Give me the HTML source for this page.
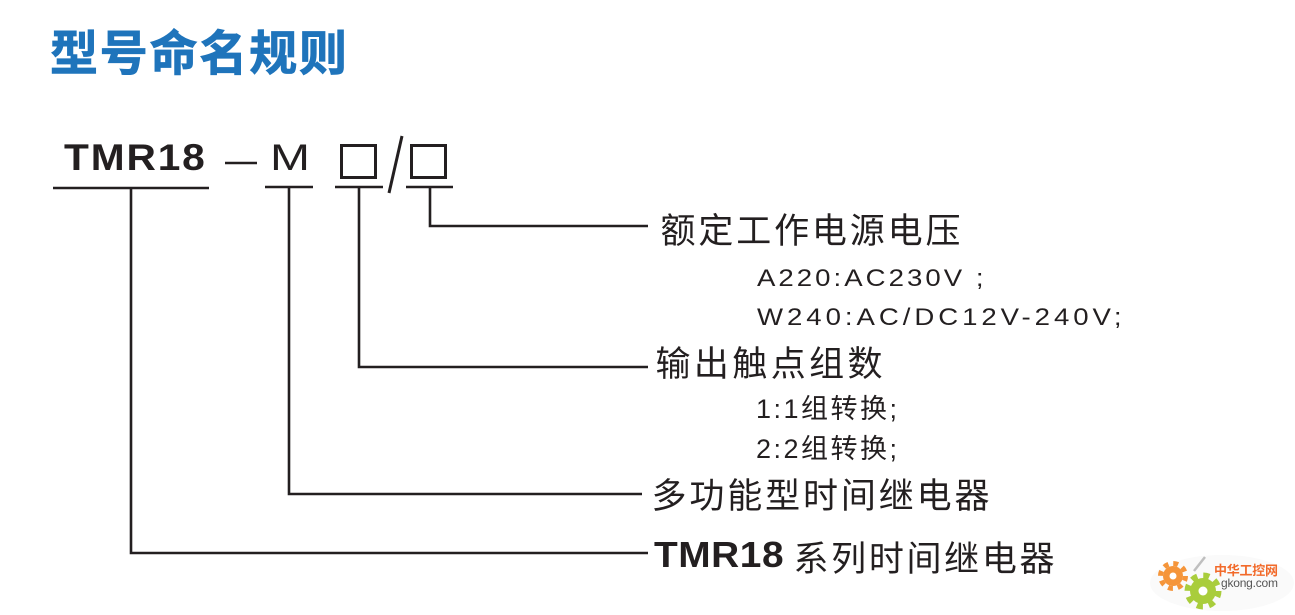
<!DOCTYPE html>
<html>
<head>
<meta charset="utf-8">
<style>
  html, body { margin: 0; padding: 0; background: #ffffff; }
  body { width: 1295px; height: 615px; overflow: hidden; }
  svg { display: block; }
  text { font-family: "Liberation Sans", "Noto Sans CJK SC", sans-serif; fill: #231f20; }
</style>
</head>
<body>
<svg width="1295" height="615" viewBox="0 0 1295 615" xmlns="http://www.w3.org/2000/svg">
  <rect x="0" y="0" width="1295" height="615" fill="#ffffff"/>

  <!-- Title -->
  <text x="50" y="70" font-size="48" font-weight="bold" style="fill:#1f74bb; stroke:#1f74bb; stroke-width:0.8" textLength="297" lengthAdjust="spacing">型号命名规则</text>

  <!-- Model code -->
  <text transform="translate(64 170) scale(1.1 1)" x="0" y="0" font-size="37" font-weight="bold" textLength="128" lengthAdjust="spacing">TMR18</text>
  <line x1="225" y1="163" x2="257" y2="163" stroke="#231f20" stroke-width="2.5"/>
  <text x="270" y="170" font-size="37" textLength="40" lengthAdjust="spacingAndGlyphs">M</text>

  <!-- boxes -->
  <rect x="341.5" y="145.5" width="34" height="32" fill="none" stroke="#231f20" stroke-width="3"/>
  <line x1="402" y1="136" x2="389" y2="193" stroke="#231f20" stroke-width="3"/>
  <rect x="411.5" y="145.5" width="34" height="32" fill="none" stroke="#231f20" stroke-width="3"/>

  <!-- underlines -->
  <g stroke="#231f20" stroke-width="2.6" fill="none">
    <line x1="53" y1="188" x2="209" y2="188"/>
    <line x1="265" y1="187" x2="313" y2="187"/>
    <line x1="335" y1="187" x2="383" y2="187"/>
    <line x1="406" y1="187" x2="453" y2="187"/>
  </g>

  <!-- connectors -->
  <g stroke="#231f20" stroke-width="2.6" fill="none" stroke-linejoin="miter">
    <polyline points="430,187 430,226 648,226"/>
    <polyline points="359,187 359,367 648,367"/>
    <polyline points="289,187 289,494 642,494"/>
    <polyline points="131,188 131,553 648,553"/>
  </g>

  <!-- Labels -->
  <text x="660.5" y="243" font-size="35" textLength="300" lengthAdjust="spacing">额定工作电源电压</text>
  <text transform="translate(757 286) scale(1.15 1)" x="0" y="0" font-size="24" textLength="197" lengthAdjust="spacing">A220:AC230V ;</text>
  <text transform="translate(757 325) scale(1.15 1)" x="0" y="0" font-size="24" textLength="317" lengthAdjust="spacing">W240:AC/DC12V-240V;</text>

  <text x="655.5" y="376" font-size="35" textLength="227" lengthAdjust="spacing">输出触点组数</text>
  <text x="756" y="418" font-size="27" textLength="141" lengthAdjust="spacing">1:1组转换;</text>
  <text x="756" y="458" font-size="27" textLength="141" lengthAdjust="spacing">2:2组转换;</text>

  <text x="651.5" y="508" font-size="35" textLength="338" lengthAdjust="spacing">多功能型时间继电器</text>

  <text transform="translate(654 567) scale(1.08 1)" x="0" y="0" font-size="36" font-weight="bold" textLength="120" lengthAdjust="spacing">TMR18</text>
  <text x="793.5" y="571" font-size="35" textLength="261" lengthAdjust="spacing">系列时间继电器</text>

  <!-- gkong logo -->
  <g>
    <ellipse cx="1222" cy="583" rx="72" ry="28" fill="#f6f6f6" opacity="0.5"/>
    <!-- orange gear -->
    <circle cx="1173" cy="576" r="12.5" fill="none" stroke="#f5953a" stroke-width="5" stroke-dasharray="4.9 4.9"/>
    <circle cx="1173" cy="576" r="10" fill="#f5953a"/>
    <circle cx="1173" cy="576" r="3.5" fill="#ffffff"/>
    <!-- green gear -->
    <circle cx="1203" cy="591" r="15.5" fill="none" stroke="#a9cd3c" stroke-width="6" stroke-dasharray="6.1 6.1"/>
    <circle cx="1203" cy="591" r="13" fill="#a9cd3c"/>
    <circle cx="1203" cy="591" r="4.5" fill="#ffffff"/>
    <!-- wand -->
    <line x1="1194" y1="571" x2="1205" y2="557" stroke="#bfbfbf" stroke-width="2.5"/>
    <text x="1214" y="575" font-size="13" font-weight="bold" style="fill:#f26a2a" textLength="64" lengthAdjust="spacing">中华工控网</text>
    <text x="1221" y="587" font-size="12" style="fill:#555555" textLength="57" lengthAdjust="spacing">gkong.com</text>
  </g>
</svg>
</body>
</html>
